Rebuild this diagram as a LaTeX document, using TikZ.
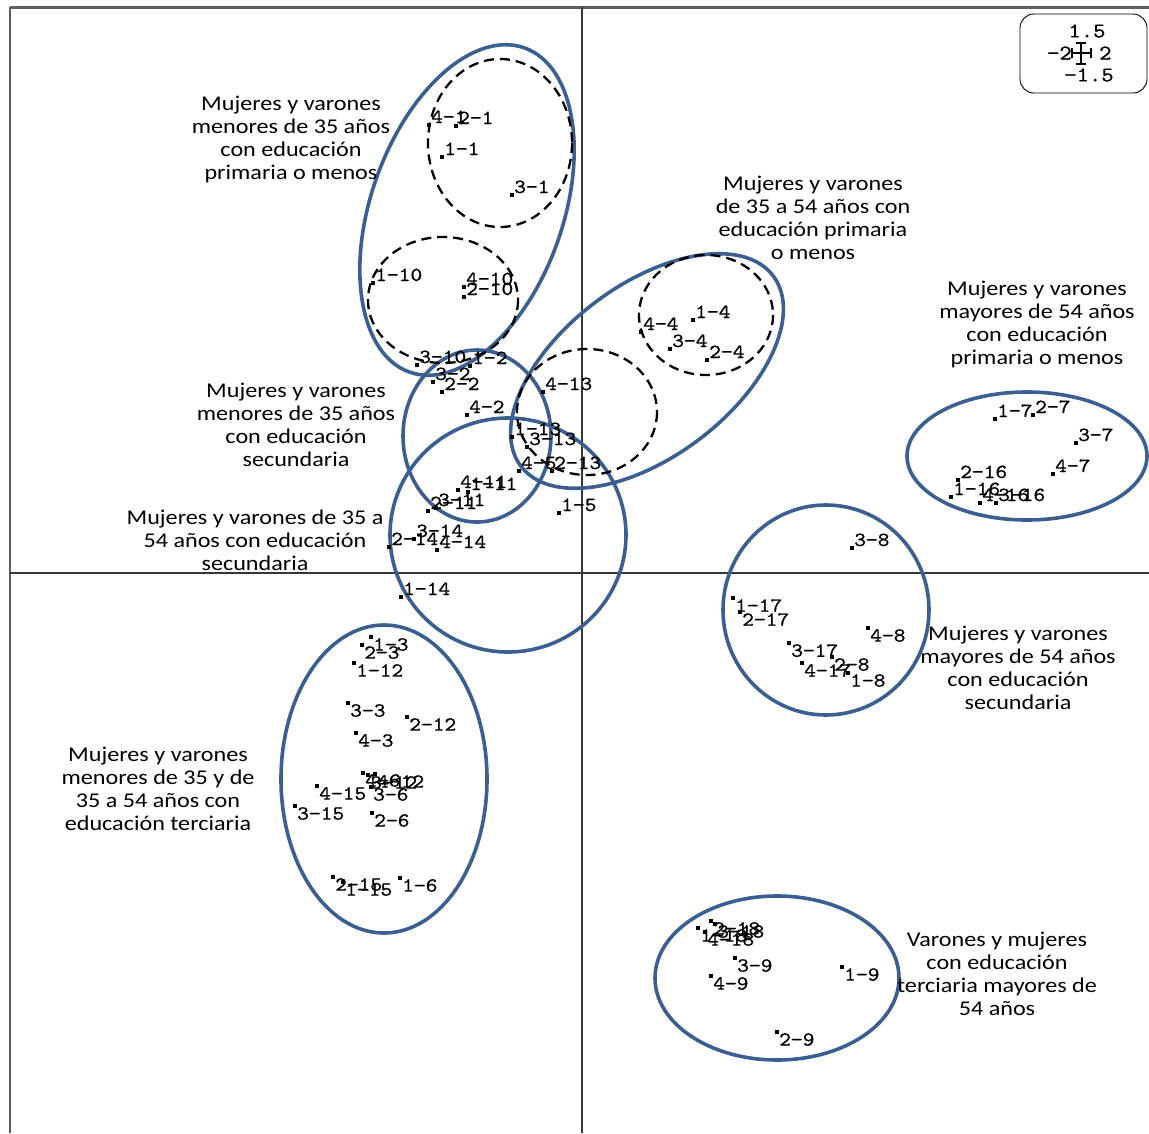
\documentclass[tikz,border=0pt]{standalone}
\usepackage{fontspec}
\setmainfont{Carlito}
\newfontfamily\annfam[FakeStretch=1.15]{Carlito}
\newfontfamily\monofam[Extension=.otf,FakeStretch=1.12,FakeBold=0.7]{lmmono10-regular}
\definecolor{ellblue}{RGB}{60,95,145}
\definecolor{axisgray}{RGB}{55,55,55}
\definecolor{framegray}{RGB}{95,95,95}
\tikzset{
  blueell/.style={draw=ellblue, line width=3.6pt},
  dashcirc/.style={draw=black, line width=2.3pt, dash pattern=on 10pt off 6pt},
  lbl/.style={font=\monofam\fontsize{20}{20}\selectfont, inner sep=0pt},
  lgd/.style={font=\monofam\fontsize{21}{21}\selectfont, inner sep=0pt},
  ann/.style={font=\annfam\fontsize{21}{23}\selectfont, align=center, inner sep=0pt},
  axisline/.style={draw=axisgray, line width=1.5pt},
}
\newcommand\pu[4]{%
  \fill (#1-1.7,#2-1.7) rectangle ++(3.4,3.4);
  \node[lbl,anchor=base west] (#4) at (#1+2,#2-2) {#3};}
\newcommand\pd[4]{%
  \fill (#1-1.7,#2-1.7) rectangle ++(3.4,3.4);
  \node[lbl,anchor=north west] (#4) at (#1+2,#2+1) {#3};}
\begin{document}
\begin{tikzpicture}[x=1pt,y=-1pt]
\useasboundingbox (0,0) rectangle (1149,1133);
% frame and axes
\draw[draw=framegray, line width=3pt] (10,7) -- (1149,7);
\draw[draw=framegray, line width=1.5pt] (10,7) -- (10,1133);
\draw[axisline] (582,7) -- (582,1133);
\draw[axisline] (10,573) -- (1149,573);
% legend
\draw[line width=0.9pt, rounded corners=14pt] (1020,14) rectangle (1147,93);
\node[lgd] (lgt) at (1087,31) {1.5};
\node[lgd,anchor=east] (lgl) at (1072,53) {−2};
\node[lgd,anchor=west] (lgr) at (1099,53) {2};
\node[lgd] (lgb) at (1089,75) {−1.5};
\draw[line width=1.1pt] (1081,43) -- (1081,64) (1072,53) -- (1091,53)
  (1076,43) -- (1086,43) (1076,64) -- (1086,64) (1072,48) -- (1072,58) (1091,48) -- (1091,58);
% blue ellipses
\draw[blueell, rotate around={70.5:(467,210)}] (467,210) ellipse (172 and 96);
\draw[blueell, rotate around={37:(647,371)}] (647,371) ellipse (158 and 86);
\draw[blueell] (477,436) ellipse (74 and 86);
\draw[blueell] (508,535) ellipse (118 and 117);
\draw[blueell] (384,779) ellipse (103 and 154);
\draw[blueell] (1027,456) ellipse (120 and 64);
\draw[blueell] (826,610) ellipse (103 and 105);
\draw[blueell] (777,978) ellipse (122 and 82);
% dashed circles
\draw[dashcirc] (500,143) ellipse (72 and 84);
\draw[dashcirc] (443,300) ellipse (75 and 63);
\draw[dashcirc] (587,412) ellipse (70 and 63);
\draw[dashcirc] (706,315) ellipse (67 and 60);
% points, labels above
\pu{429}{125}{4−1}{a1}
\pu{456}{126}{2−1}{a2}
\pu{442}{157}{1−1}{a3}
\pu{512}{195}{3−1}{a4}
\pu{373}{283}{1−10}{a5}
\pu{464}{287}{4−10}{a6}
\pu{464}{297}{2−10}{a7}
\pu{417}{365}{3−10}{a8}
\pu{470}{366}{1−2}{a9}
\pu{433}{382}{3−2}{a10}
\pu{442}{392}{2−2}{a11}
\pu{467}{415}{4−2}{a12}
\pu{543}{392}{4−13}{a13}
\pu{512}{437}{1−13}{a14}
\pu{527}{447}{3−13}{a15}
\pu{519}{471}{4−5}{a16}
\pu{552}{471}{2−13}{a17}
\pu{458}{490}{4−11}{a18}
\pu{468}{492}{1−11}{a19}
\pu{428}{511}{2−11}{a20}
\pu{436}{508}{3−11}{a21}
\pu{559}{513}{1−5}{a22}
\pu{389}{547}{2−14}{a23}
\pu{414}{539}{3−14}{a24}
\pu{437}{550}{4−14}{a25}
\pu{401}{597}{1−14}{a26}
\pu{641}{332}{4−4}{a27}
\pu{693}{320}{1−4}{a28}
\pu{670}{349}{3−4}{a29}
\pu{707}{360}{2−4}{a30}
\pu{995}{419}{1−7}{a31}
\pu{1033}{415}{2−7}{a32}
\pu{1076}{443}{3−7}{a33}
\pu{1053}{474}{4−7}{a34}
\pu{958}{480}{2−16}{a35}
\pu{951}{497}{1−16}{a36}
\pu{980}{503}{4−16}{a37}
\pu{996}{503}{3−16}{a38}
\pu{852}{548}{3−8}{a39}
% points, labels below
\pd{733}{598}{1−17}{b1}
\pd{740}{612}{2−17}{b2}
\pd{868}{628}{4−8}{b3}
\pd{789}{643}{3−17}{b4}
\pd{802}{663}{4−17}{b5}
\pd{832}{657}{2−8}{b6}
\pd{848}{673}{1−8}{b7}
\pd{698}{928}{1−18}{b8}
\pd{705}{932}{4−18}{b9}
\pd{711}{921}{2−18}{b10}
\pd{715}{924}{3−18}{b11}
\pd{735}{958}{3−9}{b12}
\pd{711}{976}{4−9}{b13}
\pd{842}{967}{1−9}{b14}
\pd{777}{1032}{2−9}{b15}
\pd{371}{637}{1−3}{b16}
\pd{362}{645}{2−3}{b17}
\pd{354}{663}{1−12}{b18}
\pd{348}{703}{3−3}{b19}
\pd{407}{717}{2−12}{b20}
\pd{356}{733}{4−3}{b21}
\pd{363}{773}{4−6}{b22}
\pd{368}{775}{3−12}{b23}
\pd{375}{774}{4−12}{b24}
\pd{371}{787}{3−6}{b25}
\pd{317}{786}{4−15}{b26}
\pd{295}{806}{3−15}{b27}
\pd{372}{813}{2−6}{b28}
\pd{333}{877}{2−15}{b29}
\pd{343}{882}{1−15}{b30}
\pd{400}{878}{1−6}{b31}
% annotations
\node[ann] (t1) at (291,139) {Mujeres y varones\\menores de 35 años\\con educación\\primaria o menos};
\node[ann] (t2) at (813,218) {Mujeres y varones\\de 35 a 54 años con\\educación primaria\\o menos};
\node[ann] (t3) at (1037,324) {Mujeres y varones\\mayores de 54 años\\con educación\\primaria o menos};
\node[ann] (t4) at (296,425) {Mujeres y varones\\menores de 35 años\\con educación\\secundaria};
\node[ann] (t5) at (255,540) {Mujeres y varones de 35 a\\54 años con educación\\secundaria};
\node[ann] (t6) at (1018,668) {Mujeres y varones\\mayores de 54 años\\con educación\\secundaria};
\node[ann] (t7) at (158,789) {Mujeres y varones\\menores de 35 y de\\35 a 54 años con\\educación terciaria};
\node[ann] (t8) at (997,974) {Varones y mujeres\\con educación\\terciaria mayores de\\54 años};
\end{tikzpicture}
\end{document}
